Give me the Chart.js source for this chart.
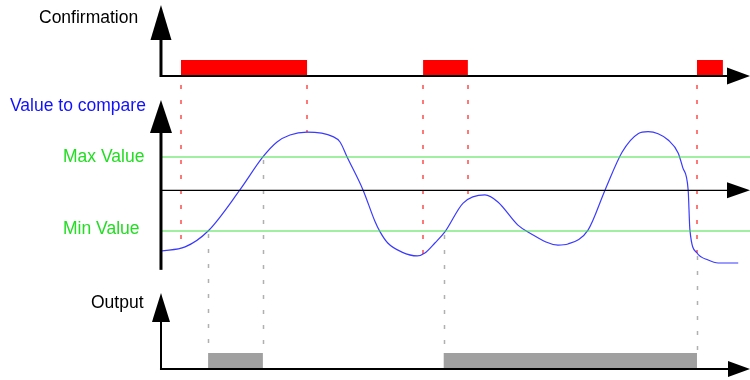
<!DOCTYPE html>
<html>
<head>
<meta charset="utf-8">
<script src="https://cdn.jsdelivr.net/npm/chart.js@4.4.0/dist/chart.umd.min.js"></script>
<style>
    html, body { margin: 0; padding: 0; background: #fff; }
    #wrap { width: 750px; height: 380px; }
</style>
</head>
<body>
<div id="wrap"><canvas id="timing" width="750" height="380"></canvas></div>
<script>
// time runs in arbitrary units, 0 = origin of every panel
const confirmationOn = [[3.4, 24.8], [44.5, 52.1], [91.0, 95.4]]
const outputOn = [[8.0, 17.3], [48.0, 91.0]]

// value to compare
const valueTimes = [0, 4.1, 8.0, 13.4, 17.3, 19.7, 21.9, 24.8, 29.2, 30.4, 31.6, 34.3,
    36.3, 37.2, 38.5, 40.9, 43.5, 44.8, 46.5, 48.2, 51.3, 55.0, 57.2, 60.6, 62.3,
    67.4, 69.1, 72.5, 75.4, 78.3, 81.0, 82.7, 84.4, 86.1, 87.8, 88.6, 89.5, 89.8, 91.0,
    92.9, 94.6, 98.0]
const valueLevels = [19.2, 21.4, 30.0, 52.2, 70.0, 78.1, 81.9, 83.4, 81.0, 78.1, 70.0, 52.2,
    35.4, 29.5, 23.5, 18.6, 16.5, 18.1, 23.5, 29.5, 45.1, 49.5, 45.7, 33.2, 29.5,
    22.4, 23.0, 30.5, 52.2, 72.7, 82.6, 83.7, 82.6, 79.2, 72.2, 64.1, 52.2, 30.5, 18.1,
    14.3, 12.7, 12.7]

const minValue = 30
const maxValue = 70
const valueCrossLevel = 52
const valueFloor = 9

// dashed guides: where they meet the curve
const redGuideTimes = [3.4, 24.8, 44.5, 52.1, 91.0]
const redGuideLevels = [21.4, 83.4, 17.0, 46.8, 18.1]
const grayGuideTimes = [8.0, 17.3, 48.0, 91.0]
const grayGuideLevels = [30, 70, 29.5, 18.1]

const labels = [
    { text: 'Confirmation', color: '#000000', x: 39, y: 23 },
    { text: 'Value to compare', color: '#1010ff', x: 10, y: 111 },
    { text: 'Max Value', color: '#22dd22', x: 63, y: 162 },
    { text: 'Min Value', color: '#22dd22', x: 63, y: 234 },
    { text: 'Output', color: '#000000', x: 91, y: 308 },
]

const pulse = (intervals) => {
    const pts = [{ x: 0, y: 0 }]
    intervals.forEach(([a, b]) => {
        pts.push({ x: a, y: 0 }, { x: a, y: 1 }, { x: b, y: 1 }, { x: b, y: 0 })
    })
    pts.push({ x: 100, y: 0 })
    return pts
}

const flat = (level) => [{ x: 0, y: level }, { x: 100, y: level }]

const upArrow = (ctx, x, tip, h, w) => {
    ctx.beginPath()
    ctx.moveTo(x, tip)
    ctx.lineTo(x + w / 2, tip + h)
    ctx.lineTo(x - w / 2, tip + h)
    ctx.closePath()
    ctx.fill()
}

const rightArrow = (ctx, tip, y, l, h) => {
    ctx.beginPath()
    ctx.moveTo(tip, y)
    ctx.lineTo(tip - l, y - h / 2)
    ctx.lineTo(tip - l, y + h / 2)
    ctx.closePath()
    ctx.fill()
}

const diagramPlugin = {
    id: 'diagram',
    beforeDatasetsDraw(chart) {
        const { ctx, scales } = chart
        const { x, yConf, yVal, yOut } = scales
        ctx.save()
        ctx.setLineDash([4, 11])
        ctx.lineWidth = 2
        ctx.strokeStyle = 'rgba(255,95,95,0.85)'
        redGuideTimes.forEach((t, i) => {
            const px = Math.round(x.getPixelForValue(t))
            ctx.beginPath()
            ctx.moveTo(px, yConf.getPixelForValue(0) + 9)
            ctx.lineTo(px, yVal.getPixelForValue(redGuideLevels[i]))
            ctx.stroke()
        })
        ctx.lineWidth = 1.5
        ctx.strokeStyle = '#b0b0b0'
        grayGuideTimes.forEach((t, i) => {
            const px = Math.round(x.getPixelForValue(t)) + 0.5
            ctx.beginPath()
            ctx.moveTo(px, yVal.getPixelForValue(grayGuideLevels[i]) + 3)
            ctx.lineTo(px, yOut.getPixelForValue(1))
            ctx.stroke()
        })
        ctx.restore()
    },
    afterDatasetsDraw(chart) {
        const { ctx, scales } = chart
        const { x, yConf, yVal, yOut } = scales
        const x0 = x.getPixelForValue(0)
        const right = chart.chartArea.right
        ctx.save()
        ctx.strokeStyle = '#000'
        ctx.fillStyle = '#000'

        // confirmation panel
        let base = yConf.getPixelForValue(0)
        ctx.lineWidth = 2
        ctx.beginPath()
        ctx.moveTo(x0 - 1, base)
        ctx.lineTo(right - 20, base)
        ctx.stroke()
        ctx.lineWidth = 3
        ctx.beginPath()
        ctx.moveTo(x0, base + 1)
        ctx.lineTo(x0, 30)
        ctx.stroke()
        upArrow(ctx, x0, 5, 35, 21)
        rightArrow(ctx, right, base, 23, 17)

        // value panel
        base = yVal.getPixelForValue(valueCrossLevel)
        ctx.lineWidth = 1.2
        ctx.beginPath()
        ctx.moveTo(x0, base)
        ctx.lineTo(right - 20, base)
        ctx.stroke()
        ctx.lineWidth = 3
        ctx.beginPath()
        ctx.moveTo(x0, yVal.getPixelForValue(valueFloor))
        ctx.lineTo(x0, 125)
        ctx.stroke()
        upArrow(ctx, x0, 100, 33, 22)
        rightArrow(ctx, right, base, 23, 16)

        // output panel
        base = yOut.getPixelForValue(0)
        ctx.lineWidth = 2
        ctx.beginPath()
        ctx.moveTo(x0 - 1, base)
        ctx.lineTo(right - 20, base)
        ctx.stroke()
        ctx.beginPath()
        ctx.moveTo(x0, base)
        ctx.lineTo(x0, 315)
        ctx.stroke()
        upArrow(ctx, x0, 293, 29, 18)
        rightArrow(ctx, right, base, 22, 16)

        ctx.font = '17.5px "Liberation Sans", Arial, sans-serif'
        ctx.textAlign = 'left'
        ctx.textBaseline = 'alphabetic'
        labels.forEach((l) => {
            ctx.fillStyle = l.color
            ctx.fillText(l.text, l.x, l.y)
        })
        ctx.restore()
    },
}

new Chart(document.getElementById('timing'), {
    type: 'line',
    data: {
        datasets: [
            {
                label: 'Max Value',
                data: flat(maxValue),
                yAxisID: 'yVal',
                borderColor: '#44e044',
                borderWidth: 1.2,
            },
            {
                label: 'Min Value',
                data: flat(minValue),
                yAxisID: 'yVal',
                borderColor: '#44e044',
                borderWidth: 1.2,
            },
            {
                label: 'Confirmation',
                data: pulse(confirmationOn),
                yAxisID: 'yConf',
                borderColor: 'transparent',
                borderWidth: 0,
                backgroundColor: '#ff0000',
                fill: 'origin',
            },
            {
                label: 'Output',
                data: pulse(outputOn),
                yAxisID: 'yOut',
                borderColor: 'transparent',
                borderWidth: 0,
                backgroundColor: '#a0a0a0',
                fill: 'origin',
            },
            {
                label: 'Value to compare',
                data: valueTimes.map((t, i) => ({ x: t, y: valueLevels[i] })),
                yAxisID: 'yVal',
                borderColor: '#3a3aff',
                borderWidth: 1.2,
                cubicInterpolationMode: 'monotone',
            },
        ],
    },
    options: {
        responsive: false,
        animation: false,
        layout: { padding: 0 },
        elements: { point: { radius: 0 } },
        plugins: {
            legend: { display: false },
            tooltip: { enabled: false },
        },
        scales: {
            x: { type: 'linear', display: false, min: -27.33, max: 100 },
            yConf: { type: 'linear', axis: 'y', position: 'left', display: false, min: -19, max: 4.75 },
            yVal: { type: 'linear', axis: 'y', position: 'left', display: false, min: -50.54, max: 154.86 },
            yOut: { type: 'linear', axis: 'y', position: 'left', display: false, min: -0.6875, max: 23.0625 },
        },
    },
    plugins: [diagramPlugin],
})
</script>
</body>
</html>
